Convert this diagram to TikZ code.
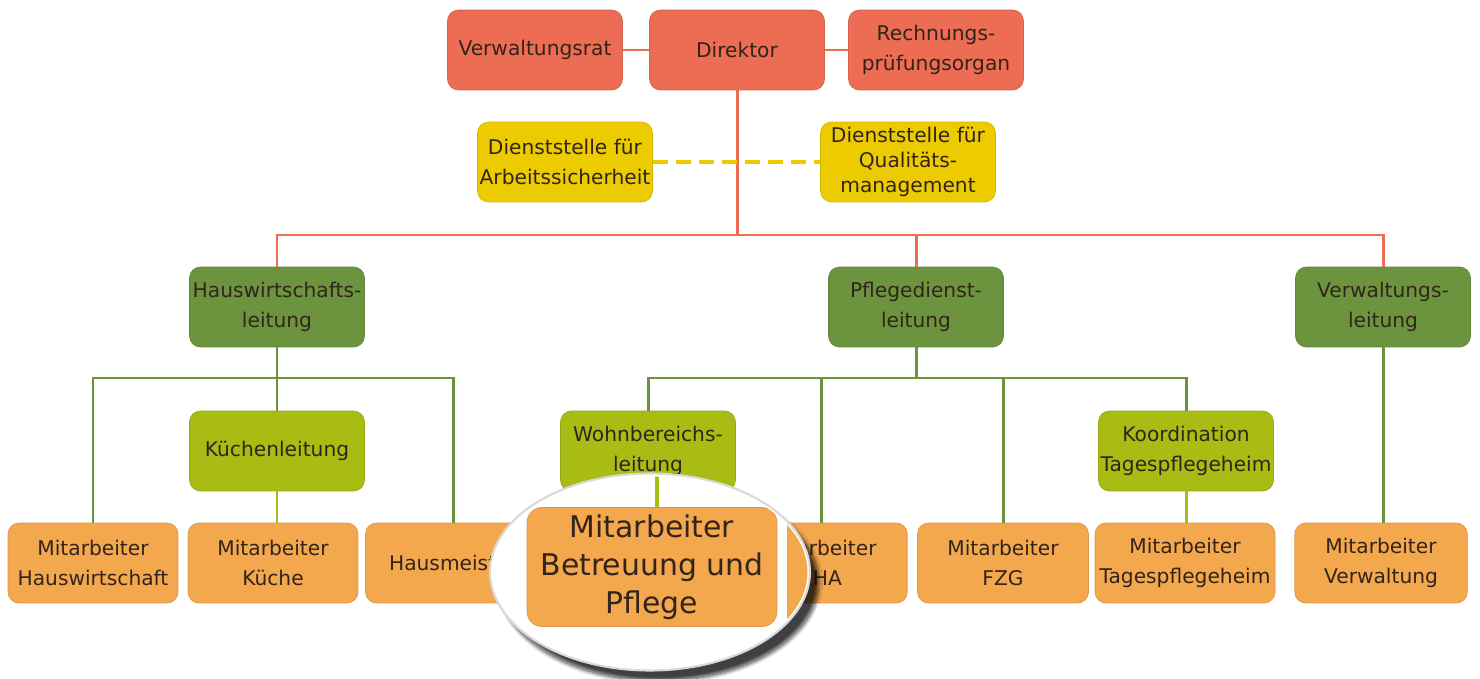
\documentclass[tikz,border=0pt]{standalone}
\usepackage{fontspec}
\setmainfont{DejaVu Sans}
\usepackage{xcolor}
\usepackage{tikz}
\usetikzlibrary{shapes.geometric, shadows.blur}
\definecolor{boardred}{RGB}{236, 108, 84}
\definecolor{staffyellow}{RGB}{236, 204, 0}
\definecolor{headgreen}{RGB}{108, 148, 62}
\definecolor{subgreen}{RGB}{168, 188, 20}
\definecolor{workorange}{RGB}{244, 168, 78}
\definecolor{inktext}{RGB}{50, 36, 26}

\begin{document}
\begin{tikzpicture}[
    x=0.02cm, y=-0.02cm,
    unit/.style={rectangle, rounded corners=0.22cm, minimum width=3.5cm, minimum height=1.6cm, inner sep=1pt, align=center, text=inktext, font=\fontsize{11.5}{17}\selectfont},
    board/.style={unit, fill=boardred, draw=boardred!90!black},
    office/.style={unit, fill=staffyellow, draw=staffyellow!90!black},
    head/.style={unit, fill=headgreen, draw=headgreen!90!black},
    sub/.style={unit, fill=subgreen, draw=subgreen!90!black},
    worker/.style={unit, fill=workorange, draw=workorange!90!black},
    redline/.style={draw=boardred, line width=1.7pt},
    greenline/.style={draw=headgreen, line width=1.7pt},
    subline/.style={draw=subgreen, line width=1.7pt},
    yellowline/.style={draw=staffyellow, line width=2.1pt, dash pattern=on 0.3cm off 0.16cm}
]
\useasboundingbox (0,0) rectangle (1480,679);

% Board level
\node[board] (rat) at (535,50) {Verwaltungsrat};
\node[board] (dir) at (737,50) {Direktor};
\node[board] (rpo) at (936,50) {Rechnungs-\\prüfungsorgan};

% Staff offices
\node[office] (asi) at (565,162) {Dienststelle für\\Arbeitssicherheit};
\node[office, font=\fontsize{11.5}{14}\selectfont] (qm) at (908,162) {Dienststelle für\\Qualitäts-\\management};

% Department heads
\node[head] (hwl) at (277,307) {Hauswirtschafts-\\leitung};
\node[head] (pdl) at (916,307) {Pflegedienst-\\leitung};
\node[head] (vwl) at (1383,307) {Verwaltungs-\\leitung};

% Sub heads
\node[sub] (kl) at (277,451) {Küchenleitung};
\node[sub] (wbl) at (648,451) {Wohnbereichs-\\leitung};
\node[sub] (ktp) at (1186,451) {Koordination\\Tagespflegeheim};

% Staff (the box under the magnifier stays empty)
\node[worker, minimum width=3.4cm] (mhw) at (93,563) {Mitarbeiter\\Hauswirtschaft};
\node[worker, minimum width=3.4cm] (mk) at (273,563) {Mitarbeiter\\Küche};
\node[worker] (hm) at (453,563) {Hausmeister};
\node[worker] (mbp) at (648,563) {};
\node[worker, minimum width=3.45cm] (meha) at (821,563) {Mitarbeiter\\EHA};
\node[worker, minimum width=3.42cm] (mfzg) at (1003,563) {Mitarbeiter\\FZG};
\node[worker, minimum width=3.6cm] (mtp) at (1185,563) {Mitarbeiter\\Tagespflegeheim};
\node[worker, minimum width=3.45cm] (mvw) at (1381,563) {Mitarbeiter\\Verwaltung};

% Red connectors
\coordinate (redbus) at (737,235);
\draw[redline] (rat.east) -- (dir.west);
\draw[redline] (dir.east) -- (rpo.west);
\draw[redline] (dir.south) -- (redbus);
\draw[redline] (hwl.north) |- (redbus) -| (vwl.north);
\draw[redline] (pdl.north) -- (pdl.north |- redbus);

% Dashed link between offices
\draw[yellowline] (asi.east) -- (qm.west);

% Green connectors
\coordinate (hwlbus) at (277,378);
\coordinate (pdlbus) at (916,378);
\draw[greenline] (hwl.south) -- (kl.north);
\draw[greenline] (mhw.north) |- (hwlbus) -| (hm.north);
\draw[greenline] (pdl.south) -- (pdlbus);
\draw[greenline] (wbl.north) |- (pdlbus) -| (ktp.north);
\draw[greenline] (meha.north) -- (meha.north |- pdlbus);
\draw[greenline] (mfzg.north) -- (mfzg.north |- pdlbus);
\draw[greenline] (vwl.south) -- (vwl.south |- mvw.north);
\draw[subline] (kl.south) -- (kl.south |- mk.north);
\draw[subline] (wbl.south) -- (mbp.north);
\draw[subline] (ktp.south) -- (ktp.south |- mtp.north);

% Magnifier
\node[ellipse, minimum width=6.4cm, minimum height=3.94cm, inner sep=0pt, fill=white, draw=black!15, line width=1.2pt,
      blur shadow={shadow xshift=5pt, shadow yshift=-6pt, shadow opacity=75, shadow blur steps=10}] (lupe) at (650,572) {};
\begin{scope}
\clip (lupe.center) ellipse [x radius=3.15cm, y radius=1.91cm];
\coordinate (stubtop) at (657,470);
\fill[workorange] (787,490) rectangle (840,650);
\node[worker, minimum width=5cm, minimum height=2.38cm, rounded corners=0.3cm, font=\fontsize{17}{21.5}\selectfont] (mbpzoom) at (652,567) {Mitarbeiter\\Betreuung und\\Pflege};
\draw[subline, line width=2.5pt] (stubtop) -- (mbpzoom.north -| stubtop);
\end{scope}
\end{tikzpicture}
\end{document}
